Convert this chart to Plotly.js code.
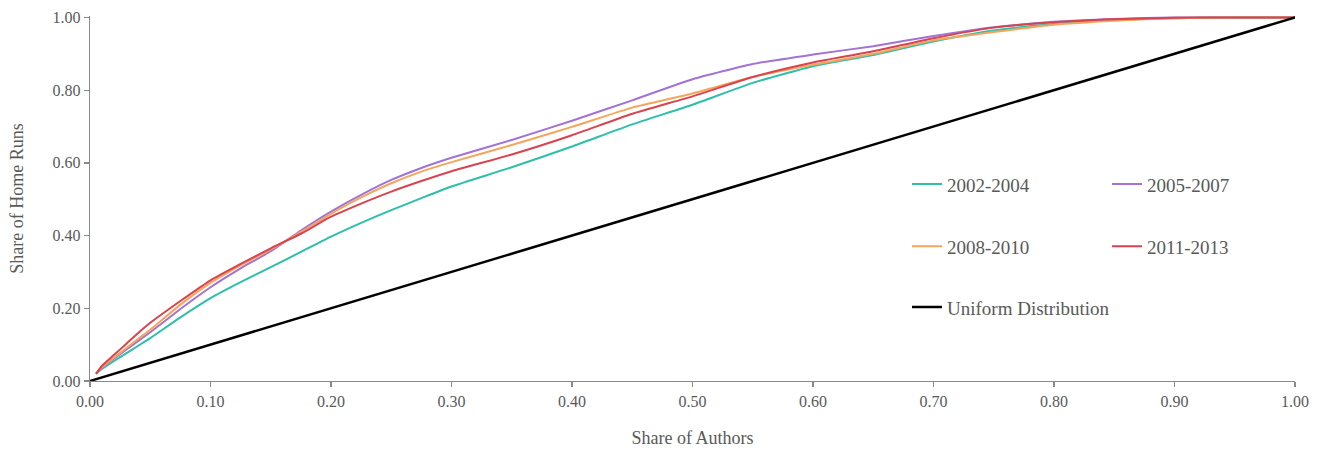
<!DOCTYPE html>
<html>
<head>
<meta charset="utf-8">
<script src="https://cdn.plot.ly/plotly-3.0.1.min.js"></script>
<style>html,body{margin:0;padding:0;background:#fff}#chart{width:1319px;height:450px}</style>
</head>
<body>
<div id="chart"></div>
<script>
// Share of authors (x) shared by every period curve
var shareAuthors = [0.005, 0.01, 0.02, 0.03, 0.04, 0.05, 0.075, 0.1, 0.125, 0.15, 0.175, 0.2, 0.225, 0.25, 0.275, 0.3, 0.35, 0.4, 0.45, 0.5, 0.55, 0.6, 0.65, 0.7, 0.75, 0.8, 0.85, 0.9, 0.95, 1.0];

// Share of home runs per period
var hr2002_2004 = [0.02, 0.033, 0.055, 0.076, 0.097, 0.118, 0.175, 0.228, 0.272, 0.313, 0.355, 0.397, 0.435, 0.470, 0.503, 0.535, 0.588, 0.645, 0.706, 0.760, 0.820, 0.866, 0.897, 0.934, 0.964, 0.982, 0.993, 0.998, 1.0, 1.0];
var hr2005_2007 = [0.02, 0.036, 0.062, 0.086, 0.110, 0.134, 0.198, 0.258, 0.310, 0.357, 0.414, 0.466, 0.512, 0.553, 0.586, 0.614, 0.663, 0.716, 0.772, 0.830, 0.872, 0.898, 0.921, 0.949, 0.973, 0.988, 0.996, 1.0, 1.0, 1.0];
var hr2008_2010 = [0.02, 0.038, 0.065, 0.090, 0.116, 0.141, 0.210, 0.270, 0.318, 0.362, 0.410, 0.460, 0.505, 0.544, 0.576, 0.602, 0.649, 0.699, 0.752, 0.791, 0.836, 0.870, 0.900, 0.937, 0.960, 0.980, 0.991, 0.998, 1.0, 1.0];
var hr2011_2013 = [0.02, 0.042, 0.072, 0.102, 0.132, 0.160, 0.220, 0.277, 0.322, 0.365, 0.405, 0.452, 0.488, 0.521, 0.550, 0.577, 0.623, 0.676, 0.735, 0.783, 0.836, 0.876, 0.907, 0.943, 0.972, 0.987, 0.995, 0.999, 1.0, 1.0];

// Uniform distribution reference line
var uniformX = [0, 1];
var uniformY = [0, 1];

var seriesNames = ["2002-2004", "2005-2007", "2008-2010", "2011-2013", "Uniform Distribution"];
var xTickVals = [0, 0.1, 0.2, 0.3, 0.4, 0.5, 0.6, 0.7, 0.8, 0.9, 1.0];
var yTickVals = [0, 0.2, 0.4, 0.6, 0.8, 1.0];

var textColor = "#595959";
var fontFam = "Liberation Serif, Times New Roman, serif";

function curve(y, name, color, leg) {
  return {x: shareAuthors, y: y, name: name, mode: "lines",
          line: {color: color, width: 2, shape: "spline", smoothing: 0.5}, legend: leg};
}

var traces = [
  curve(hr2002_2004, seriesNames[0], "#2dbfa9", "legend"),
  curve(hr2005_2007, seriesNames[1], "#a272d4", "legend"),
  curve(hr2008_2010, seriesNames[2], "#f5a55b", "legend2"),
  curve(hr2011_2013, seriesNames[3], "#d8434f", "legend2"),
  {x: uniformX, y: uniformY, name: seriesNames[4], mode: "lines", line: {color: "#000000", width: 2.5}, legend: "legend3"}
];

function legendAt(y, ew) {
  return {
    x: 0.678, y: y, xanchor: "left", yanchor: "middle",
    orientation: "h", entrywidth: ew, entrywidthmode: "pixels",
    bgcolor: "rgba(0,0,0,0)", borderwidth: 0,
    font: {family: fontFam, size: 19, color: textColor},
    itemclick: false, itemdoubleclick: false, traceorder: "normal"
  };
}

var layout = {
  width: 1319, height: 450,
  margin: {l: 90, r: 24, t: 16, b: 69},
  paper_bgcolor: "#ffffff", plot_bgcolor: "#ffffff",
  font: {family: fontFam, color: textColor, size: 16},
  showlegend: true,
  legend: legendAt(0.539, 155),
  legend2: legendAt(0.369, 155),
  legend3: legendAt(0.202, 0),
  xaxis: {
    range: [0, 1], tickvals: xTickVals, tickformat: ".2f",
    showgrid: false, zeroline: false, showline: true, linecolor: "#8a8a8a", linewidth: 1.3,
    ticks: "outside", ticklen: 5, tickcolor: "#8a8a8a", tickwidth: 1.3,
    tickfont: {family: fontFam, size: 16, color: textColor},
    title: {text: "Share of Authors", font: {family: fontFam, size: 18, color: textColor}, standoff: 23},
    fixedrange: true
  },
  yaxis: {
    range: [0, 1.004], tickvals: yTickVals, tickformat: ".2f",
    showgrid: false, zeroline: false, showline: true, linecolor: "#8a8a8a", linewidth: 1.3,
    ticks: "outside", ticklen: 5, tickcolor: "#8a8a8a", tickwidth: 1.3,
    tickfont: {family: fontFam, size: 16, color: textColor},
    title: {text: "Share of Home Runs", font: {family: fontFam, size: 18, color: textColor}, standoff: 24},
    fixedrange: true
  }
};

Plotly.newPlot("chart", traces, layout, {displayModeBar: false, staticPlot: true});
</script>
</body>
</html>
